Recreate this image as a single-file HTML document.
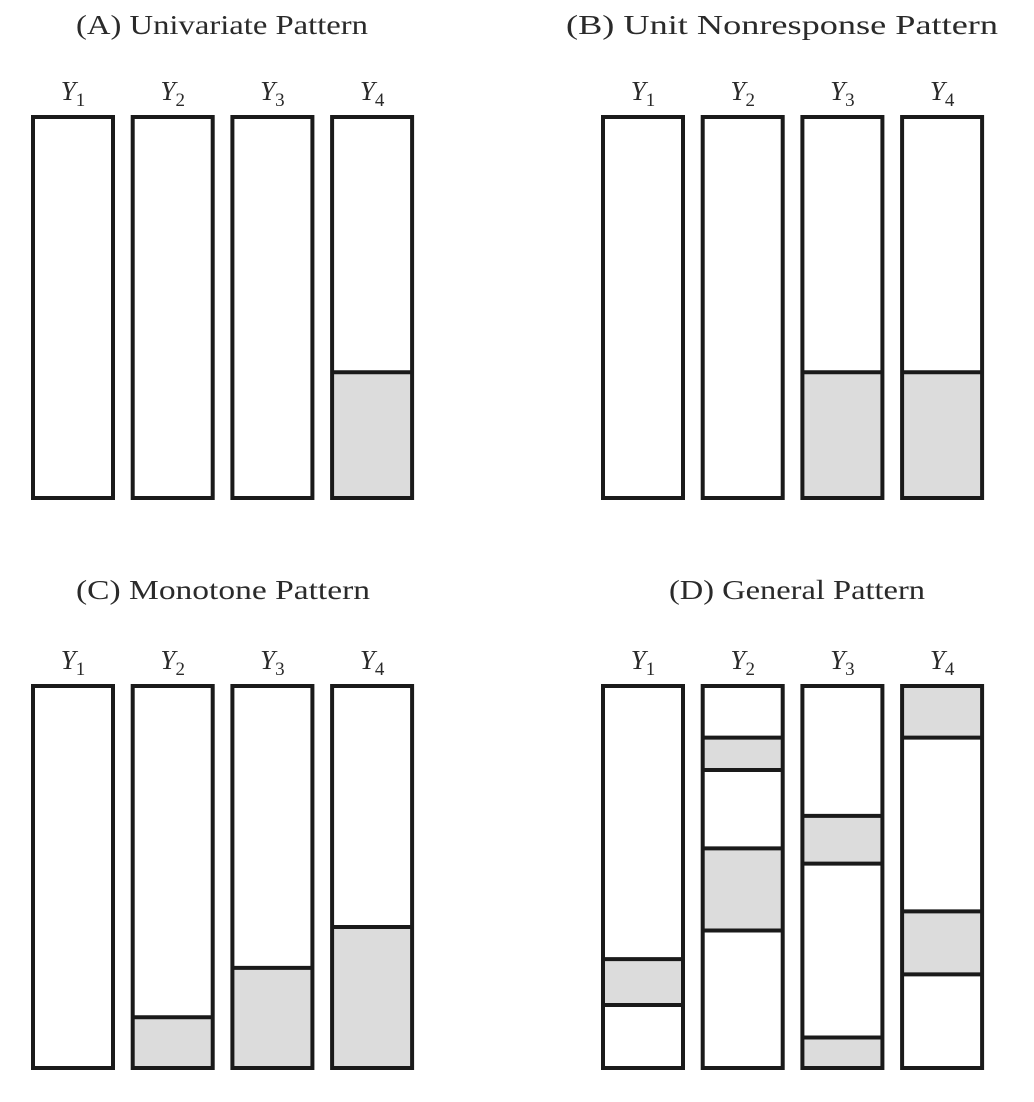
<!DOCTYPE html>
<html><head><meta charset="utf-8"><style>
html,body{margin:0;padding:0;background:#fff;}
svg{display:block;}
text{font-family:"Liberation Serif",serif;fill:#2a2a2a;}
</style></head><body>
<svg id="chart" width="1034" height="1102" viewBox="0 0 1034 1102"></svg>
<script>
const variables = ["1","2","3","4"];
const panelTitles = ["(A) Univariate Pattern","(B) Unit Nonresponse Pattern","(C) Monotone Pattern","(D) General Pattern"];
// missing intervals per panel per variable, in % of rows (0=top,100=bottom)
const missingA = [[],[],[],[[67,100]]];
const missingB = [[],[],[[67,100]],[[67,100]]];
const missingC = [[],[[86.7,100]],[[73.8,100]],[[63.1,100]]];
const missingD = [[[71.5,83.5]],[[13.5,22],[42.5,64]],[[34,46.5],[92,100]],[[0,13.5],[59,75.5]]];
const panelData = [missingA, missingB, missingC, missingD];

const NS = "http://www.w3.org/2000/svg";
const svg = document.getElementById("chart");
function mk(tag, attrs, parent){const e=document.createElementNS(NS,tag);for(const k in attrs)e.setAttribute(k,attrs[k]);(parent||svg).appendChild(e);return e;}
const panels = [
  {x0:33, top:117, bot:498, titleX:222, titleY:34, titleW:292, labY:100},
  {x0:603, top:117, bot:498, titleX:782, titleY:34, titleW:432, labY:100},
  {x0:33, top:686, bot:1068, titleX:223, titleY:599, titleW:294, labY:669},
  {x0:603, top:686, bot:1068, titleX:797, titleY:599, titleW:256, labY:669}
];
const colW = 80, colStep = 99.7;
panels.forEach((p, pi) => {
  const g = mk("g", {});
  
  
  const t = mk("text", {x:p.titleX, y:p.titleY, "text-anchor":"middle", "font-size":"27", textLength:p.titleW, lengthAdjust:"spacingAndGlyphs"}, g);
  t.textContent = panelTitles[pi];
  
  
  const yS = v => p.top + (p.bot - p.top) * v / 100;
  variables.forEach((v, vi) => {
    const x = p.x0 + vi * colStep;
    const lab = mk("text", {x:x+colW/2, y:p.labY, "text-anchor":"middle", "font-size":"27"}, g);
    const a = mk("tspan", {"font-style":"italic"}, lab); a.textContent = "Y";
    const b = mk("tspan", {"font-size":"19", dy:"6"}, lab); b.textContent = v;
    
    
    const col = mk("g", {}, g);
    
    
    mk("rect", {x:x, y:p.top, width:colW, height:p.bot-p.top, fill:"#fff"}, col);
    panelData[pi][vi].forEach(([s,e]) => {
      const r = mk("rect", {x:x, y:yS(s), width:colW, height:yS(e)-yS(s), fill:"#dcdcdc"}, col);
      
      
      [s,e].forEach(q => { if (q>0 && q<100) mk("line",{x1:x,x2:x+colW,y1:yS(q),y2:yS(q),stroke:"#1a1a1a","stroke-width":"4"},col); });
    });
    mk("rect", {x:x, y:p.top, width:colW, height:p.bot-p.top, fill:"none", stroke:"#1a1a1a", "stroke-width":"4"}, col);
  });
});
</script>
</body></html>
